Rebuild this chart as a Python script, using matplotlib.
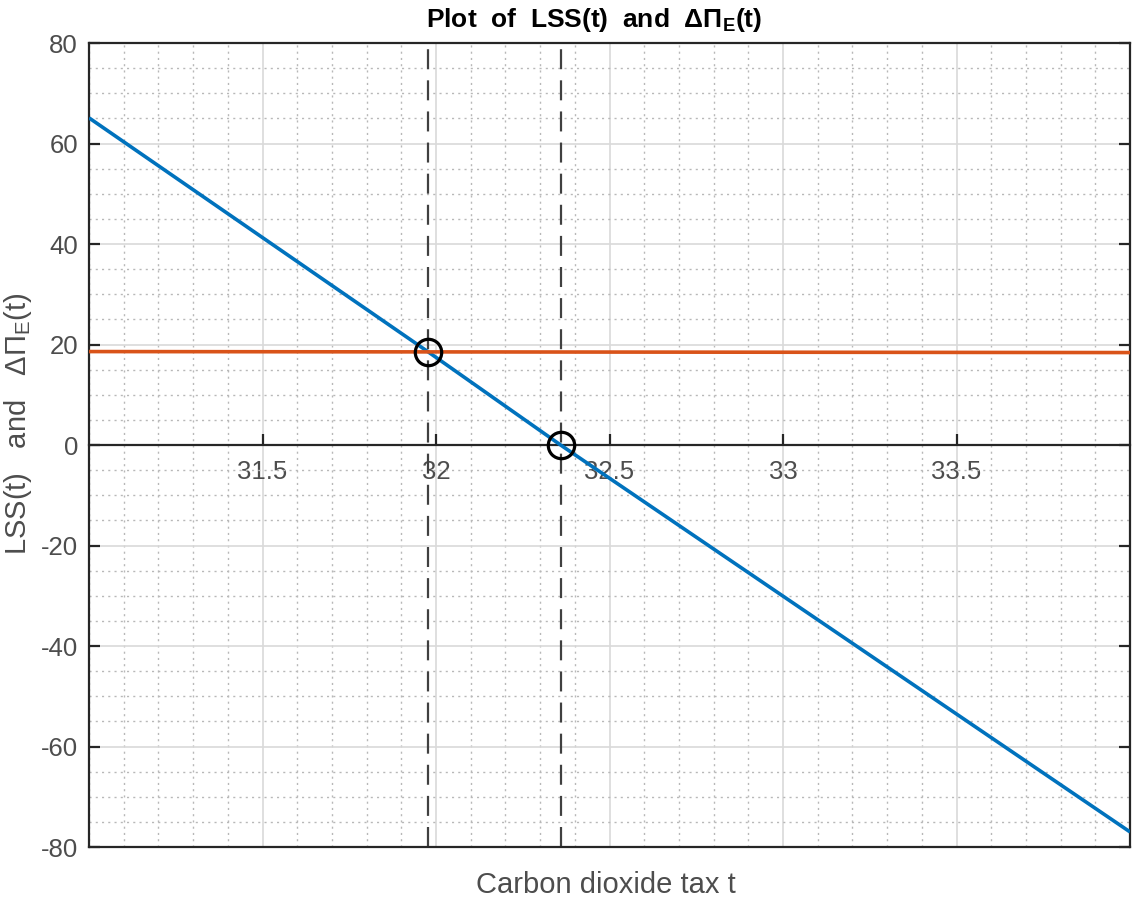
import numpy as np
import matplotlib
matplotlib.use("Agg")
import matplotlib.pyplot as plt
from matplotlib.ticker import MultipleLocator

plt.rcParams["font.family"] = ["Liberation Sans", "DejaVu Sans"]
plt.rcParams["mathtext.fontset"] = "custom"
plt.rcParams["mathtext.rm"] = "Liberation Sans"
plt.rcParams["axes.unicode_minus"] = False

# values
t_lss = [31.0, 31.976, 32.359, 34.0]
lss = [65.1, 18.6, 0.0, -77.0]
t_dpi = [31.0, 34.0]
dpi_e = [18.6, 18.4]
t_cross = [31.976, 32.359]
y_cross = [18.6, 0.0]

xticks = [31.5, 32, 32.5, 33, 33.5]
xticklabels = ["31.5", "32", "32.5", "33", "33.5"]
yticks = [80, 60, 40, 20, 0, -20, -40, -60, -80]

BLUE = "#0072BD"
ORANGE = "#D95319"
AXC = "#262626"
TXT = "#4d4d4d"

fig = plt.figure(figsize=(11.33, 9.06), dpi=100)
ax = fig.add_axes([0.0786, 0.0651, 0.9188, 0.8874])

ax.set_xlim(31, 34)
ax.set_ylim(-80, 80)

# grid
ax.xaxis.set_minor_locator(MultipleLocator(0.1))
ax.yaxis.set_minor_locator(MultipleLocator(5))
ax.grid(True, which="major", color="#d9d9d9", lw=1.2, ls="-")
ax.grid(True, which="minor", color="#b8b8b8", lw=1.0, ls=(0, (1.5, 3)))
ax.set_axisbelow(True)

for x in t_cross:
    ax.axvline(x, color="#404040", lw=1.6, ls=(0, (9, 5)), zorder=2)

ax.plot(t_lss, lss, color=BLUE, lw=2.6, zorder=3, solid_capstyle="butt")
ax.plot(t_dpi, dpi_e, color=ORANGE, lw=2.6, zorder=3)
ax.plot(t_cross, y_cross, "o", ms=19, mfc="none", mec="black", mew=2.3, zorder=4)

# axes: x axis through the origin, box around
ax.spines["bottom"].set_position(("data", 0))
for s in ax.spines.values():
    s.set_color(AXC)
    s.set_linewidth(1.6)
ax.plot([0, 1], [0, 0], transform=ax.transAxes, color=AXC, lw=1.6,
        clip_on=False, zorder=5)

ax.set_xticks(xticks)
ax.set_xticklabels(xticklabels)
ax.set_yticks(yticks)
ax.tick_params(which="major", direction="in", length=8, width=1.6, color=AXC,
               labelcolor=TXT, labelsize=18.5, right=True)
ax.tick_params(which="minor", length=0)
ax.tick_params(axis="x", pad=11)
ax.tick_params(axis="y", pad=8)

fig.text(0.524, 0.978, "Plot  of  LSS(t)  and  ΔΠ$_\\mathregular{E}$(t)",
         ha="center", va="center", fontsize=19, fontweight="bold", color="black")
fig.text(0.535, 0.023, "Carbon dioxide tax t", ha="center", va="center",
         fontsize=21, color=TXT)
fig.text(0.016, 0.532, "LSS(t)   and   ΔΠ$_\\mathregular{E}$(t)", ha="center",
         va="center", rotation=90, fontsize=21, color=TXT)

fig.savefig("out.png", dpi=100)
